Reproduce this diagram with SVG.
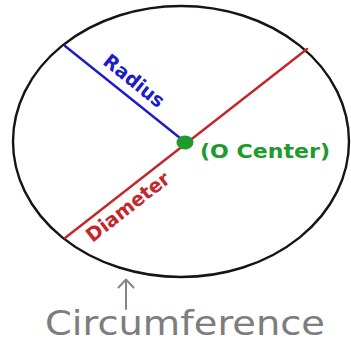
<svg xmlns="http://www.w3.org/2000/svg" width="351" height="343" viewBox="0 0 351 343">
<style>
.lbl{font-family:"DejaVu Sans","Liberation Sans",sans-serif;font-weight:bold}
.circ{fill:none;stroke:#151515;stroke-width:2.4}
.conn{fill:none;stroke-width:2.4;stroke-linecap:round}
</style>
<rect width="351" height="343" fill="#ffffff"/>
<g id="circle">
<ellipse class="circ" cx="181" cy="141.5" rx="168" ry="135.5"/>
</g>
<g id="connectors">
<line class="conn" x1="65" y1="238" x2="307" y2="49" stroke="#c4262c"/>
<line class="conn" x1="65" y1="46" x2="185" y2="142" stroke="#1c1cc8"/>
<g id="arrow" stroke="#858585" stroke-width="2" fill="none" stroke-linecap="round" stroke-linejoin="round">
<line x1="126" y1="280" x2="126" y2="309"/>
<polyline points="118.5,287.5 126,279.5 133.5,287.5"/>
</g>
</g>
<g id="center">
<ellipse cx="185" cy="142.5" rx="8.5" ry="7" fill="#1f9a2c"/>
<text class="lbl" x="200" y="157.5" font-size="20" fill="#1f9a2c" textLength="130" lengthAdjust="spacingAndGlyphs">(O Center)</text>
</g>
<g id="radius">
<text class="lbl" transform="translate(134,81) rotate(38.6)" x="0" y="6.5" font-size="19.5" fill="#1c1cc8" text-anchor="middle" textLength="72" lengthAdjust="spacingAndGlyphs">Radius</text>
</g>
<g id="diameter">
<text class="lbl" transform="translate(128,207) rotate(-38)" x="0" y="6.5" font-size="19.5" fill="#c4262c" text-anchor="middle" textLength="100" lengthAdjust="spacingAndGlyphs">Diameter</text>
</g>
<g id="circumference">
<text x="45" y="335" font-family="DejaVu Sans,Liberation Sans,sans-serif" font-size="34" fill="#7d7d7d" textLength="280" lengthAdjust="spacingAndGlyphs">Circumference</text>
</g>
</svg>
